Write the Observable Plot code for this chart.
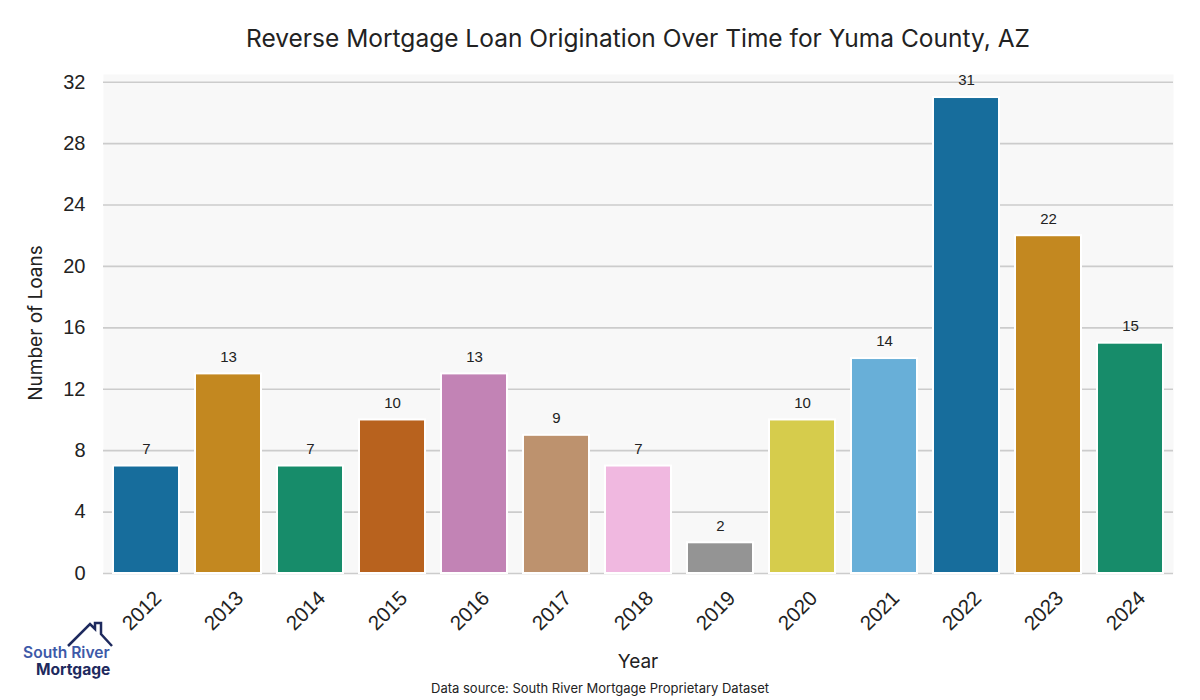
<!DOCTYPE html>
<html>
<head>
<meta charset="utf-8">
<script src="https://cdn.jsdelivr.net/npm/d3@7"></script>
<script src="https://cdn.jsdelivr.net/npm/@observablehq/plot@0.6"></script>
<style>
  html, body { margin: 0; padding: 0; background: #fff; }
  #wrap { position: relative; width: 1200px; height: 700px; overflow: hidden; }
  .t { position: absolute; font-family: Inter, "DejaVu Sans", sans-serif; color: #222; white-space: nowrap; }
  #title { left: 638px; top: 23px; transform: translateX(-50%); font-size: 24.5px; }
  #xlabel { left: 638px; top: 650px; transform: translateX(-50%); font-size: 19px; }
  #ylabel { left: 35px; top: 323px; transform: translate(-50%, -50%) rotate(-90deg); font-size: 19px; }
  #source { left: 600px; top: 680px; transform: translateX(-50%); font-size: 13px; }
  #logo { position: absolute; left: 0; top: 610px; }
</style>
</head>
<body>
<div id="wrap">
  <div id="chart"></div>
  <div class="t" id="title">Reverse Mortgage Loan Origination Over Time for Yuma County, AZ</div>
  <div class="t" id="xlabel">Year</div>
  <div class="t" id="ylabel">Number of Loans</div>
  <div class="t" id="source">Data source: South River Mortgage Proprietary Dataset</div>
  <svg id="logo" width="130" height="80" viewBox="0 610 130 80">
    <polyline points="68,646 90,624 95,629 95,623 101,623 101,634 112,646" fill="none" stroke="#1e2a5e" stroke-width="2.5" stroke-linejoin="miter"/>
    <text x="23" y="658" font-family="Inter, sans-serif" font-size="15.6" font-weight="600" fill="#3d59a8">South River</text>
    <text x="36" y="675" font-family="Inter, sans-serif" font-size="15.6" font-weight="700" fill="#1e2a5e">Mortgage</text>
  </svg>
</div>
<script>
const years = ["2012","2013","2014","2015","2016","2017","2018","2019","2020","2021","2022","2023","2024"];
const loans = [7, 13, 7, 10, 13, 9, 7, 2, 10, 14, 31, 22, 15];
const colors = ["#176d9c","#c38820","#178c6a","#b8621e","#c283b5","#bd926e","#f0b8e0","#949494","#d6cc4c","#68afd8","#176d9c","#c38820","#178c6a"];
const yTicks = [0, 4, 8, 12, 16, 20, 24, 28, 32];

const data = years.map((y, i) => ({year: y, loans: loans[i], color: colors[i]}));

const chart = Plot.plot({
  width: 1200,
  height: 700,
  marginLeft: 103,
  marginRight: 27,
  marginTop: 74,
  marginBottom: 127,
  style: {fontFamily: '"Liberation Sans", Arial, sans-serif', background: "transparent"},
  x: {domain: years, paddingInner: 0.2, paddingOuter: 0.1, axis: null},
  y: {domain: [0, 32.5], axis: null},
  marks: [
    Plot.frame({fill: "#f8f8f8", stroke: null}),
    Plot.ruleY(yTicks, {stroke: "#cccccc", strokeWidth: 1.6}),
    Plot.barY(data, {x: "year", y: "loans", fill: "color", stroke: "#ffffff", strokeWidth: 2}),
    Plot.text(data, {x: "year", y: "loans", text: d => String(d.loans), dy: -17, fontSize: 15, fill: "#222"}),
    Plot.text(yTicks, {x: null, y: d => d, text: d => String(d), frameAnchor: "left", textAnchor: "end", dx: -18, fontSize: 20, fill: "#222"}),
    Plot.text(years, {x: d => d, text: d => d, frameAnchor: "bottom", dy: 42, rotate: -45, textAnchor: "middle", fontSize: 20.5, fill: "#222"})
  ]
});
document.getElementById("chart").appendChild(chart);
</script>
</body>
</html>
